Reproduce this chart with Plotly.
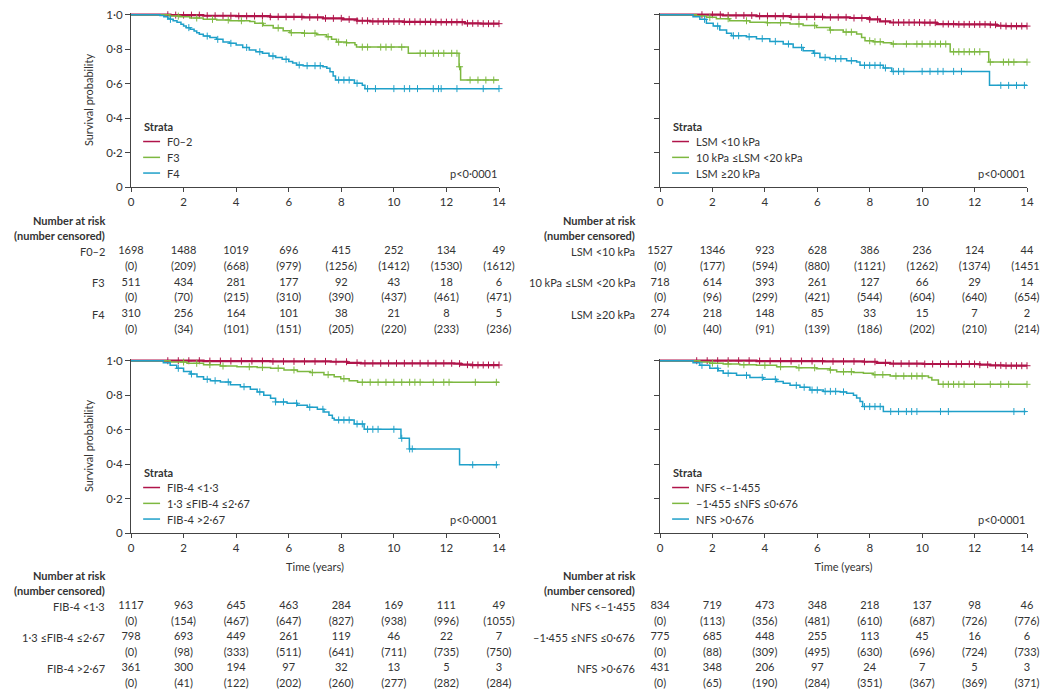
import numpy as np
import plotly.graph_objects as go

# ---- data -------------------------------------------------------------------
RED = "#b0144a"
GREEN = "#7db840"
BLUE = "#1fa0c9"

TIME_TICKS = [0, 2, 4, 6, 8, 10, 12, 14]
SURV_TICKS = [0, 0.2, 0.4, 0.6, 0.8, 1.0]
SURV_TICKTEXT = ["0", "0·2", "0·4", "0·6", "0·8", "1·0"]

# Kaplan-Meier steps as (time, survival after the step)
# panel A: fibrosis stage
F02_STEPS = [(0, 1.0), (1.0, 1.0), (1.5, 0.998), (2.75, 0.994), (4.0, 0.992), (5.3, 0.988),
             (6.55, 0.985), (7.3, 0.979), (8.07, 0.973), (8.6, 0.965), (9.1, 0.961), (10.35, 0.959),
             (11.6, 0.957), (12.7, 0.95), (13.3, 0.948), (14.0, 0.948)]
F3_STEPS = [(0, 1.0), (1.0, 1.0), (1.48, 0.992), (1.86, 0.988), (2.24, 0.981), (2.75, 0.973),
            (3.26, 0.969), (3.76, 0.965), (4.52, 0.961), (4.71, 0.95), (5.03, 0.938), (5.41, 0.923),
            (5.79, 0.907), (6.05, 0.896), (6.55, 0.892), (7.06, 0.884), (7.44, 0.872), (7.63, 0.857),
            (7.82, 0.841), (8.2, 0.837), (8.52, 0.826), (8.58, 0.812), (10.55, 0.776), (12.48, 0.698),
            (12.54, 0.621), (14.0, 0.621)]
F4_STEPS = [(0, 1.0), (1.0, 1.0), (1.1, 0.995), (1.25, 0.988), (1.4, 0.98), (1.5, 0.973),
            (1.6, 0.965), (1.75, 0.957), (1.9, 0.945), (2.0, 0.934), (2.1, 0.925), (2.25, 0.915),
            (2.4, 0.905), (2.5, 0.896), (2.6, 0.886), (2.75, 0.876), (3.0, 0.868), (3.25, 0.857),
            (3.5, 0.841), (3.75, 0.834), (4.0, 0.824), (4.25, 0.81), (4.5, 0.795), (4.75, 0.785),
            (5.0, 0.776), (5.25, 0.76), (5.5, 0.752), (5.75, 0.741), (6.0, 0.728), (6.15, 0.72),
            (6.3, 0.708), (6.55, 0.704), (7.3, 0.698), (7.45, 0.689), (7.57, 0.669), (7.69, 0.644),
            (7.78, 0.621), (8.5, 0.602), (8.8, 0.59), (8.9, 0.571), (14.0, 0.571)]
F02_CENS = [1.4, 1.7, 2.0, 2.3, 2.6, 2.9, 3.2, 3.5, 3.8, 4.1, 4.4, 4.7, 5.0, 5.3, 5.6, 5.9, 6.2,
            6.5, 6.8, 7.1, 7.4, 7.7, 8.0, 8.3, 8.6, 8.8, 9.0, 9.2, 9.4, 9.6, 9.8, 10.0, 10.2, 10.4,
            10.6, 10.8, 11.0, 11.2, 11.4, 11.6, 11.8, 12.0, 12.2, 12.4, 12.6, 12.8, 13.0, 13.2,
            13.4, 13.6, 13.8, 14.0]
F3_CENS = [1.8, 2.5, 3.1, 3.7, 4.2, 5.0, 5.6, 6.1, 6.6, 7.0, 7.5, 7.9, 8.2, 8.8, 9.0, 9.5, 9.7,
           9.9, 10.3, 11.0, 11.2, 11.5, 11.7, 11.9, 12.2, 12.4, 12.5, 12.9, 13.2, 13.5, 13.8]
F4_CENS = [1.5, 2.2, 2.9, 3.3, 3.8, 4.4, 4.9, 5.4, 5.9, 6.4, 6.7, 7.0, 7.2, 7.9, 8.1, 8.3, 8.6,
           9.0, 9.3, 10.0, 10.4, 10.6, 10.9, 11.5, 11.7, 11.8, 12.4, 13.4, 14.0]

# panel B: liver stiffness measurement
LSM1_STEPS = [(0, 1.0), (1.0, 1.0), (2.4, 0.996), (3.68, 0.992), (4.96, 0.988), (6.23, 0.985),
              (7.25, 0.981), (8.0, 0.973), (8.39, 0.961), (8.78, 0.955), (10.05, 0.954),
              (10.56, 0.946), (11.3, 0.944), (12.6, 0.942), (12.85, 0.936), (13.2, 0.934), (14.0, 0.934)]
LSM2_STEPS = [(0, 1.0), (1.0, 1.0), (1.39, 0.992), (1.77, 0.985), (2.15, 0.977), (2.66, 0.965),
              (3.43, 0.957), (4.06, 0.954), (4.96, 0.946), (5.46, 0.938), (5.97, 0.926),
              (6.48, 0.911), (6.99, 0.899), (7.5, 0.888), (7.69, 0.868), (7.82, 0.849), (8.14, 0.843),
              (8.52, 0.837), (8.84, 0.83), (11.07, 0.785), (12.54, 0.725), (14.0, 0.725)]
LSM3_STEPS = [(0, 1.0), (1.0, 1.0), (1.26, 0.988), (1.52, 0.973), (1.77, 0.95), (2.03, 0.934),
              (2.28, 0.911), (2.54, 0.892), (2.73, 0.878), (3.3, 0.872), (3.68, 0.861), (4.19, 0.845),
              (4.7, 0.83), (5.08, 0.81), (5.46, 0.791), (5.85, 0.776), (6.1, 0.752), (6.48, 0.745),
              (7.12, 0.733), (7.5, 0.725), (7.63, 0.706), (8.52, 0.691), (8.84, 0.671), (12.57, 0.59),
              (14.0, 0.59)]
LSM1_CENS = [1.6, 2.0, 2.3, 2.6, 2.9, 3.2, 3.5, 3.8, 4.1, 4.4, 4.7, 5.0, 5.3, 5.6, 5.9, 6.2, 6.5,
             6.8, 7.1, 7.4, 7.7, 8.0, 8.3, 8.6, 8.9, 9.1, 9.3, 9.5, 9.7, 9.9, 10.1, 10.3, 10.5,
             10.8, 11.0, 11.2, 11.4, 11.6, 11.8, 12.0, 12.2, 12.4, 12.6, 12.8, 13.0, 13.2, 13.4,
             13.6, 13.8, 14.0]
LSM2_CENS = [1.9, 2.6, 3.3, 4.1, 4.6, 5.3, 5.9, 6.5, 7.1, 7.3, 8.0, 8.2, 8.4, 8.9, 9.4, 9.8,
             10.0, 10.3, 10.5, 10.7, 10.9, 11.2, 11.4, 11.6, 11.8, 12.0, 12.2, 12.6, 13.1, 13.3,
             13.5, 14.0]
LSM3_CENS = [1.7, 2.2, 2.8, 3.0, 3.4, 3.9, 4.4, 4.9, 5.4, 5.9, 6.3, 6.7, 6.9, 7.3, 7.8, 8.0,
             8.2, 8.4, 8.6, 8.9, 9.1, 9.3, 10.0, 10.3, 10.6, 10.8, 11.2, 11.5, 13.0, 13.3, 13.6, 13.9]

# panel C: FIB-4
FIB1_STEPS = [(0, 1.0), (1.0, 1.0), (2.76, 0.998), (5.3, 0.996), (7.6, 0.994), (8.23, 0.988),
              (8.74, 0.985), (12.3, 0.983), (12.56, 0.977), (12.94, 0.975), (14.0, 0.975)]
FIB2_STEPS = [(0, 1.0), (1.0, 1.0), (1.49, 0.992), (2.13, 0.985), (2.76, 0.977), (3.4, 0.969),
              (4.03, 0.965), (4.8, 0.961), (5.31, 0.956), (5.82, 0.946), (6.33, 0.938),
              (6.83, 0.931), (7.34, 0.919), (7.73, 0.907), (7.98, 0.896), (8.3, 0.884), (8.62, 0.875),
              (14.0, 0.875)]
FIB3_STEPS = [(0, 1.0), (1.0, 1.0), (1.23, 0.988), (1.49, 0.973), (1.74, 0.956), (2.0, 0.938),
              (2.25, 0.923), (2.51, 0.907), (2.76, 0.892), (3.02, 0.884), (3.4, 0.876), (3.78, 0.861),
              (4.16, 0.849), (4.54, 0.834), (4.8, 0.819), (5.05, 0.799), (5.31, 0.782), (5.5, 0.761),
              (5.94, 0.753), (6.33, 0.741), (6.71, 0.73), (7.09, 0.718), (7.34, 0.703), (7.53, 0.683),
              (7.66, 0.666), (7.73, 0.656), (8.49, 0.633), (8.87, 0.602), (10.27, 0.55),
              (10.59, 0.488), (12.5, 0.396), (13.96, 0.396)]
FIB1_CENS = [1.4, 1.8, 2.2, 2.6, 3.0, 3.4, 3.8, 4.2, 4.6, 5.0, 5.4, 5.8, 6.2, 6.6, 7.0, 7.4,
             7.8, 8.2, 8.6, 8.9, 9.2, 9.5, 9.8, 10.1, 10.4, 10.7, 11.0, 11.3, 11.6, 11.9, 12.2,
             12.5, 12.8, 13.0, 13.2, 13.4, 13.6, 13.8, 14.0]
FIB2_CENS = [2.0, 2.5, 3.0, 3.5, 4.5, 5.0, 5.6, 6.2, 6.9, 7.5, 8.1, 8.8, 9.1, 9.4, 9.7, 10.0,
             10.3, 10.6, 10.8, 11.0, 11.5, 11.9, 12.1, 13.1, 13.9]
FIB3_CENS = [1.8, 2.3, 2.9, 3.2, 3.7, 4.3, 4.9, 5.5, 5.8, 6.3, 6.8, 7.3, 7.9, 8.1, 8.3, 8.6,
             8.8, 9.0, 9.2, 9.4, 10.0, 10.3, 10.6, 10.7, 13.0, 13.9]

# panel D: NAFLD fibrosis score
NFS1_STEPS = [(0, 1.0), (1.0, 1.0), (3.68, 0.998), (6.23, 0.996), (7.76, 0.994), (8.27, 0.988),
              (8.78, 0.983), (10.05, 0.981), (12.2, 0.977), (12.6, 0.973), (13.1, 0.971),
              (14.0, 0.971)]
NFS2_STEPS = [(0, 1.0), (1.0, 1.0), (1.52, 0.992), (1.9, 0.986), (2.41, 0.981), (3.04, 0.977),
              (3.68, 0.973), (4.45, 0.965), (5.21, 0.959), (5.97, 0.954), (6.48, 0.946),
              (6.74, 0.936), (7.38, 0.932), (7.76, 0.927), (8.14, 0.919), (8.78, 0.911),
              (10.24, 0.903), (10.37, 0.888), (10.62, 0.863), (14.0, 0.863)]
NFS3_STEPS = [(0, 1.0), (1.0, 1.0), (1.26, 0.988), (1.52, 0.973), (1.9, 0.956), (2.22, 0.942),
              (2.41, 0.927), (2.92, 0.915), (3.43, 0.903), (3.94, 0.892), (4.45, 0.88), (4.7, 0.869),
              (4.96, 0.857), (5.34, 0.846), (5.72, 0.83), (6.23, 0.822), (6.87, 0.819), (7.12, 0.811),
              (7.38, 0.799), (7.5, 0.784), (7.63, 0.763), (7.73, 0.734), (8.52, 0.705), (13.97, 0.705)]
NFS1_CENS = [1.4, 1.8, 2.2, 2.6, 3.0, 3.4, 3.8, 4.2, 4.6, 5.0, 5.4, 5.8, 6.2, 6.6, 7.0, 7.4,
             7.8, 8.2, 8.6, 8.9, 9.2, 9.5, 9.8, 10.1, 10.4, 10.7, 11.0, 11.3, 11.5, 11.8, 12.0,
             12.2, 12.5, 12.8, 13.0, 13.2, 13.4, 13.6, 13.8, 14.0]
NFS2_CENS = [2.0, 2.6, 3.2, 4.0, 4.6, 5.3, 5.9, 6.5, 7.0, 7.3, 8.2, 8.5, 9.0, 9.3, 9.6, 9.8,
             10.0, 10.8, 11.0, 11.2, 11.4, 11.6, 12.0, 12.6, 13.0, 13.3, 14.0]
NFS3_CENS = [1.6, 2.2, 2.6, 3.3, 3.9, 4.4, 5.2, 5.5, 5.8, 6.0, 6.3, 6.5, 6.7, 7.0, 7.8, 8.0,
             8.2, 8.4, 8.8, 9.1, 9.4, 9.6, 9.8, 10.7, 11.0, 13.5, 13.9]

# number at risk / number censored at 0, 2, ..., 14 years
RISK_F = [
    ("F0–2", [1698, 1488, 1019, 696, 415, 252, 134, 49], [0, 209, 668, 979, 1256, 1412, 1530, 1612]),
    ("F3", [511, 434, 281, 177, 92, 43, 18, 6], [0, 70, 215, 310, 390, 437, 461, 471]),
    ("F4", [310, 256, 164, 101, 38, 21, 8, 5], [0, 34, 101, 151, 205, 220, 233, 236]),
]
RISK_LSM = [
    ("LSM <10 kPa", [1527, 1346, 923, 628, 386, 236, 124, 44], [0, 177, 594, 880, 1121, 1262, 1374, 1451]),
    ("10 kPa ≤LSM <20 kPa", [718, 614, 393, 261, 127, 66, 29, 14], [0, 96, 299, 421, 544, 604, 640, 654]),
    ("LSM ≥20 kPa", [274, 218, 148, 85, 33, 15, 7, 2], [0, 40, 91, 139, 186, 202, 210, 214]),
]
RISK_FIB = [
    ("FIB-4 <1·3", [1117, 963, 645, 463, 284, 169, 111, 49], [0, 154, 467, 647, 827, 938, 996, 1055]),
    ("1·3 ≤FIB-4 ≤2·67", [798, 693, 449, 261, 119, 46, 22, 7], [0, 98, 333, 511, 641, 711, 735, 750]),
    ("FIB-4 >2·67", [361, 300, 194, 97, 32, 13, 5, 3], [0, 41, 122, 202, 260, 277, 282, 284]),
]
RISK_NFS = [
    ("NFS <–1·455", [834, 719, 473, 348, 218, 137, 98, 46], [0, 113, 356, 481, 610, 687, 726, 776]),
    ("–1·455 ≤NFS ≤0·676", [775, 685, 448, 255, 113, 45, 16, 6], [0, 88, 309, 495, 630, 696, 724, 733]),
    ("NFS >0·676", [431, 348, 206, 97, 24, 7, 5, 3], [0, 65, 190, 284, 351, 367, 369, 371]),
]

LEGEND_F = ["F0–2", "F3", "F4"]
LEGEND_LSM = ["LSM <10 kPa", "10 kPa ≤LSM <20 kPa", "LSM ≥20 kPa"]
LEGEND_FIB = ["FIB-4 <1·3", "1·3 ≤FIB-4 ≤2·67", "FIB-4 >2·67"]
LEGEND_NFS = ["NFS <–1·455", "–1·455 ≤NFS ≤0·676", "NFS >0·676"]

# -----------------------------------------------------------------------------
FONT = "Lato"
TXT = "#333333"
AX = "#444444"
# the page body keeps its default 8px margin, so the figure starts 8px in
PAD = 8
W, H = 1048 - PAD, 694 - PAD


def px_x(px):
    # window pixel column -> paper fraction
    return (px - PAD) / W


def px_y(px):
    # window pixel row -> paper fraction
    return 1 - (px - PAD) / H


def surv_at(steps, t):
    times = np.array([s[0] for s in steps])
    idx = np.searchsorted(times, t, side="right") - 1
    return steps[max(idx, 0)][1]


panels = [
    ([(F02_STEPS, F02_CENS), (F3_STEPS, F3_CENS), (F4_STEPS, F4_CENS)], LEGEND_F, RISK_F),
    ([(LSM1_STEPS, LSM1_CENS), (LSM2_STEPS, LSM2_CENS), (LSM3_STEPS, LSM3_CENS)], LEGEND_LSM, RISK_LSM),
    ([(FIB1_STEPS, FIB1_CENS), (FIB2_STEPS, FIB2_CENS), (FIB3_STEPS, FIB3_CENS)], LEGEND_FIB, RISK_FIB),
    ([(NFS1_STEPS, NFS1_CENS), (NFS2_STEPS, NFS2_CENS), (NFS3_STEPS, NFS3_CENS)], LEGEND_NFS, RISK_NFS),
]
colors = [RED, GREEN, BLUE]

x_dom = [[px_x(131), px_x(499)], [px_x(660), px_x(1027)]]
y_dom_plot = [[px_y(187), px_y(13)], [px_y(533), px_y(359)]]
y_dom_table = [[px_y(337.8), px_y(212.5)], [px_y(691.7), px_y(568)]]
LEG_Y = [0.264, 0.172, 0.081]

fig = go.Figure()
annotations = []
shapes = []
layout = {}
small = dict(family=FONT, size=11, color=TXT)

for p, (curves, labels, risk) in enumerate(panels):
    n = p + 1
    sfx = "" if n == 1 else str(n)
    tsfx = str(n + 4)
    col, row = p % 2, p // 2

    for k, ((steps, cens), lab) in enumerate(zip(curves, labels)):
        fig.add_trace(go.Scatter(
            x=[s[0] for s in steps], y=[s[1] for s in steps], mode="lines",
            line=dict(color=colors[k], width=2.2 if k == 0 else 1.5, shape="hv"),
            name=lab, showlegend=False, xaxis="x" + sfx, yaxis="y" + sfx,
        ))
        fig.add_trace(go.Scatter(
            x=cens, y=[surv_at(steps, v) for v in cens], mode="markers",
            marker=dict(symbol="cross-thin", size=5, line=dict(color=colors[k], width=1)),
            name=lab + " (censored)", showlegend=False, xaxis="x" + sfx, yaxis="y" + sfx,
            cliponaxis=False,
        ))
        # legend sample drawn inside the panel
        shapes.append(dict(type="line", xref=f"x{sfx} domain", yref="y" + sfx, x0=0.033, x1=0.079,
                           y0=LEG_Y[k], y1=LEG_Y[k], line=dict(color=colors[k], width=1.5)))
        annotations.append(dict(text=lab, xref=f"x{sfx} domain", yref="y" + sfx, x=0.092, y=LEG_Y[k],
                                xanchor="left", yanchor="middle", showarrow=False, font=small))
    annotations.append(dict(text="<b>Strata</b>", xref=f"x{sfx} domain", yref="y" + sfx, x=0.03,
                            y=0.354, xanchor="left", yanchor="middle", showarrow=False, font=small))
    annotations.append(dict(text="p<0·0001", xref=f"x{sfx} domain", yref="y" + sfx, x=1.0, y=0.081,
                            xanchor="right", yanchor="middle", showarrow=False, font=small))

    # risk table cells
    for k, (lab, at_risk, cens) in enumerate(risk):
        for r, vals in enumerate([[str(v) for v in at_risk], [f"({v})" for v in cens]]):
            fig.add_trace(go.Scatter(
                x=TIME_TICKS, y=[2 * k + r] * len(TIME_TICKS), mode="text", text=vals,
                textfont=dict(family=FONT, size=11, color=TXT), showlegend=False, cliponaxis=False,
                xaxis="x" + tsfx, yaxis="y" + tsfx, hoverinfo="skip",
            ))
        annotations.append(dict(text=lab, xref=f"x{tsfx} domain", yref="y" + tsfx, x=-0.064, y=2 * k,
                                xanchor="right", yanchor="middle", showarrow=False, font=small))
    for txt, yy in [("<b>Number at risk</b>", -2.0), ("<b>(number censored)</b>", -1.02)]:
        annotations.append(dict(text=txt, xref=f"x{tsfx} domain", yref="y" + tsfx, x=-0.064, y=yy,
                                xanchor="right", yanchor="middle", showarrow=False, font=small))

    axis = dict(showline=True, linecolor=AX, linewidth=1, ticks="outside", tickcolor=AX,
                showgrid=False, zeroline=False, automargin=False, ticklabeloverflow="allow",
                tickfont=dict(family=FONT, size=11.5, color=TXT))
    layout["xaxis" + sfx] = dict(axis, domain=x_dom[col], range=[0, 14], tickvals=TIME_TICKS,
                                 anchor="y" + sfx, ticklen=4,
                                 title=dict(text="Time (years)" if row == 1 else "", standoff=10,
                                            font=small))
    layout["yaxis" + sfx] = dict(axis, domain=y_dom_plot[row], range=[0, 1.01], tickvals=SURV_TICKS,
                                 ticktext=SURV_TICKTEXT, showticklabels=(col == 0), anchor="x" + sfx,
                                 ticklen=5,
                                 title=dict(text="Survival probability" if col == 0 else "", standoff=10,
                                            font=small))
    layout["xaxis" + tsfx] = dict(domain=x_dom[col], range=[0, 14], visible=False, automargin=False,
                                  anchor="y" + tsfx)
    layout["yaxis" + tsfx] = dict(domain=y_dom_table[row], range=[5.5, -2.5], visible=False,
                                  automargin=False, anchor="x" + tsfx)

fig.update_layout(
    width=W, height=H, margin=dict(l=0, r=0, t=0, b=0, autoexpand=False),
    paper_bgcolor="white", plot_bgcolor="white",
    font=dict(family=FONT, size=11, color=TXT),
    annotations=annotations, shapes=shapes, showlegend=False,
    **layout,
)

fig.write_html("out.html")
